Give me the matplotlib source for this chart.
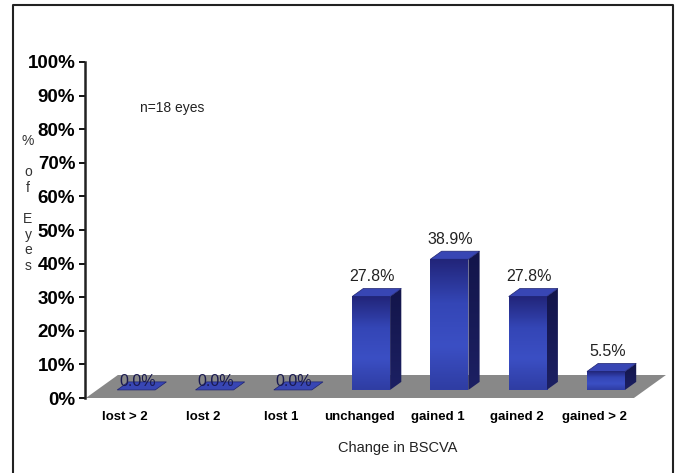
import matplotlib
matplotlib.use('Agg')
import matplotlib.pyplot as plt
import numpy as np
from matplotlib.colors import LinearSegmentedColormap
from matplotlib.lines import Line2D
from matplotlib.patches import Polygon

categories = ['lost > 2', 'lost 2', 'lost 1', 'unchanged', 'gained 1', 'gained 2', 'gained > 2']
percent_eyes = [0.0, 0.0, 0.0, 27.8, 38.9, 27.8, 5.5]
value_labels = ['0.0%', '0.0%', '0.0%', '27.8%', '38.9%', '27.8%', '5.5%']
y_ticks = [0, 10, 20, 30, 40, 50, 60, 70, 80, 90, 100]

W, H = 678, 473
plt.rcParams['font.family'] = ['Liberation Sans', 'DejaVu Sans']

fig = plt.figure(figsize=(W / 100, H / 100), dpi=100)
# axes placed in pixel terms: spine at x=85, 0% at y=398, 100% at y=62
ax = fig.add_axes([85 / W, (H - 398) / H, (670 - 85) / W, (398 - 62) / H])

step_px = 78.3
ax.set_xlim((85 - 125) / step_px, (670 - 125) / step_px)
ax.set_ylim(0, 100)

# depth of the 3-D floor in data units
depth_x = 32 / step_px
depth_y = 23 / 3.36
front_f, back_f = 0.35, 0.7
half_w = 19 / step_px

floor = Polygon([(-0.5, 0), (6.5, 0), (6.5 + depth_x, depth_y), (-0.5 + depth_x, depth_y)],
                closed=True, facecolor='#888888', edgecolor='none', zorder=1)
ax.add_patch(floor)

front_cmap = LinearSegmentedColormap.from_list('front', ['#2f3da3', '#3b4fc4', '#3446b6', '#22257a'])
side_cmap = LinearSegmentedColormap.from_list('side', ['#1c2063', '#13154a'])
grad = np.linspace(0, 1, 64).reshape(-1, 1)

for i, (v, lab) in enumerate(zip(percent_eyes, value_labels)):
    fx0 = i + front_f * depth_x - half_w
    fx1 = i + front_f * depth_x + half_w
    y0 = front_f * depth_y
    y1 = y0 + v
    ddx = (back_f - front_f) * depth_x
    ddy = (back_f - front_f) * depth_y
    z = 3 + i * 0.01
    if v > 0:
        ax.imshow(grad, cmap=front_cmap, origin='lower', extent=(fx0, fx1, y0, y1),
                  aspect='auto', zorder=z, interpolation='bilinear')
        side = Polygon([(fx1, y0), (fx1 + ddx, y0 + ddy), (fx1 + ddx, y1 + ddy), (fx1, y1)],
                       closed=True, facecolor='none', edgecolor='none')
        ax.add_patch(side)
        im = ax.imshow(grad, cmap=side_cmap, origin='lower',
                       extent=(fx1, fx1 + ddx, y0, y1 + ddy), aspect='auto', zorder=z,
                       interpolation='bilinear')
        im.set_clip_path(side)
    top = Polygon([(fx0, y1), (fx1, y1), (fx1 + ddx, y1 + ddy), (fx0 + ddx, y1 + ddy)],
                  closed=True, facecolor='#3846b4', edgecolor='#1e2370', lw=0.5, zorder=z + 0.005)
    ax.add_patch(top)
    off = 6 if v > 0 else 2.4
    ax.text(i + 0.16, y1 + off, lab, ha='center', va='center', fontsize=11.5,
            color='#222222' if v > 0 else '#1a1a50', zorder=10)

ax.set_yticks(y_ticks)
ax.set_yticklabels([f'{t}%' for t in y_ticks], fontsize=13.5, fontweight='bold')
ax.set_xticks(range(len(categories)))
ax.set_xticklabels(categories, fontsize=9.5, fontweight='bold')
ax.tick_params(axis='x', length=0, pad=9)
ax.tick_params(axis='y', length=4, width=1.3, pad=3, direction='out')
for s in ['top', 'right', 'bottom']:
    ax.spines[s].set_visible(False)
ax.spines['left'].set_linewidth(1.8)
ax.spines['left'].set_color('#222222')
ax.patch.set_visible(False)

fig.text(28 / W, 1 - 203.5 / H, '%\n \no\nf\n \nE\ny\ne\ns', ha='center', va='center',
         fontsize=10, color='#333333', linespacing=1.15)
fig.text(172 / W, 1 - 108 / H, 'n=18 eyes', ha='center', va='center', fontsize=10, color='#222222')
fig.text(398 / W, 1 - 448 / H, 'Change in BSCVA', ha='center', va='center', fontsize=10.5,
         color='#222222')

# outer frame (left, top, right)
fx = [13 / W, 13 / W, 673 / W, 673 / W]
fy = [0, 1 - 5 / H, 1 - 5 / H, 0]
fig.add_artist(Line2D(fx, fy, transform=fig.transFigure, color='#222222', lw=1.5))

fig.savefig('out.png', dpi=100)
